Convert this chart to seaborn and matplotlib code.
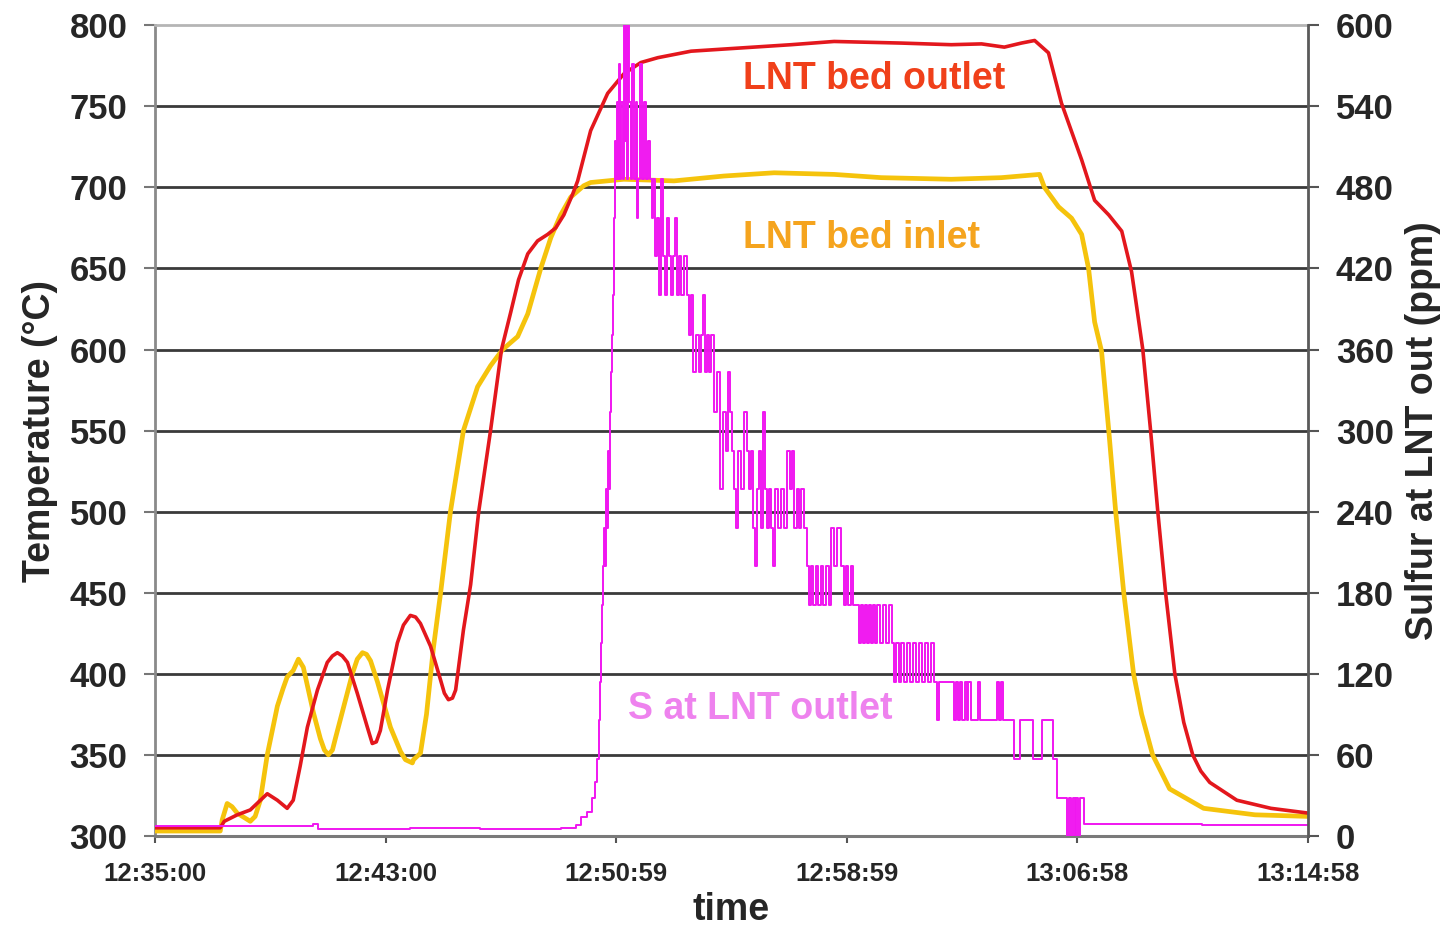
import matplotlib
matplotlib.use("Agg")
import matplotlib.pyplot as plt
import seaborn as sns

# Elapsed time is in minutes after 12:35:00.
outlet_t = [0.00, 2.26, 2.40, 2.85, 3.30, 3.89, 4.24, 4.58, 4.79, 5.03, 5.28, 5.63, 5.97,
            6.15, 6.32, 6.49, 6.67, 7.01, 7.36, 7.53, 7.67, 7.81, 8.06, 8.40, 8.61, 8.85,
            9.03, 9.20, 9.55, 9.90, 10.03, 10.17, 10.31, 10.42, 10.69, 10.94, 11.22, 11.63,
            12.01, 12.33, 12.60, 12.92, 13.26, 13.61, 13.89, 14.17, 14.48, 14.65, 15.10,
            15.69, 16.25, 16.84, 17.43, 18.58, 20.31, 22.05, 23.54, 25.87, 27.60, 28.65,
            29.44, 30.03, 30.49, 30.97, 31.42, 32.12, 32.57, 33.06, 33.51, 33.85, 33.99,
            34.24, 34.51, 34.76, 35.03, 35.35, 35.66, 35.97, 36.25, 36.56, 37.50, 38.68,
            40.00]
outlet_temp = [305, 305, 309, 313, 316, 326, 322, 317, 322, 343, 367, 390, 407,
               411, 413, 411, 407, 388, 367, 357, 358, 365, 390, 419, 430, 436,
               435, 431, 417, 396, 388, 384, 385, 390, 427, 455, 500, 550,
               600, 623, 643, 659, 667, 671, 675, 683, 696, 704, 735,
               758, 770, 777, 780, 784, 786, 788, 790, 789, 788, 788.5,
               786.5, 789, 790.6, 783, 752, 717, 692, 683, 673, 648, 631,
               600, 550, 500, 450, 400, 370, 350, 340, 333, 322, 317,
               314]

inlet_t = [0.00, 2.26, 2.33, 2.50, 2.67, 2.85, 3.30, 3.47, 3.65, 3.89, 4.24, 4.44, 4.58,
           4.79, 4.97, 5.14, 5.49, 5.73, 5.87, 6.01, 6.15, 6.25, 6.53, 6.84, 7.01, 7.19,
           7.33, 7.47, 7.71, 8.16, 8.51, 8.68, 8.92, 8.96, 9.20, 9.41, 9.65, 9.90, 10.24,
           10.69, 11.18, 11.63, 12.05, 12.57, 12.92, 13.37, 13.72, 14.06, 14.41, 14.86,
           15.10, 16.25, 17.99, 19.72, 21.46, 23.54, 25.17, 27.60, 29.34, 30.66, 30.83,
           31.32, 31.77, 32.12, 32.36, 32.57, 32.81, 33.06, 33.30, 33.58, 33.92, 34.20,
           34.58, 35.17, 36.35, 38.13, 40.00]
inlet_temp = [303, 303, 310, 320, 318, 314, 309, 312, 322, 350, 380, 391, 398,
              402, 409, 404, 376, 360, 353, 350, 353, 360, 379, 400, 409, 413,
              412, 408, 395, 367, 352, 347, 345, 347, 351, 375, 416, 450, 500,
              550, 577, 590, 600, 608, 622, 650, 669, 683, 694, 701,
              703, 705, 704, 707, 709, 708, 706, 705, 706, 708, 700,
              688, 681, 671, 650, 617, 599, 550, 500, 450, 400, 375,
              350, 329, 317, 313, 312]

sulfur_t = [0.00, 5.49, 5.66, 8.85, 11.28, 14.06, 14.58, 14.76, 14.97, 15.14, 15.24, 15.31,
            15.38, 15.42, 15.45, 15.49, 15.52, 15.56, 15.59, 15.63, 15.66, 15.69, 15.73,
            15.76, 15.80, 15.83, 15.87, 15.90, 15.94, 15.97, 16.01, 16.04, 16.08, 16.11,
            16.15, 16.22, 16.25, 16.28, 16.32, 16.35, 16.39, 16.42, 16.49, 16.53, 16.60,
            16.67, 16.70, 16.74, 16.81, 16.88, 16.94, 17.01, 17.08, 17.15, 17.22, 17.26,
            17.33, 17.40, 17.47, 17.53, 17.60, 17.67, 17.74, 17.81, 17.88, 17.95, 18.02,
            18.09, 18.16, 18.23, 18.33, 18.44, 18.51, 18.58, 18.65, 18.75, 18.85, 18.92,
            18.99, 19.06, 19.13, 19.20, 19.27, 19.38, 19.48, 19.58, 19.69, 19.79, 19.86,
            19.93, 20.00, 20.07, 20.14, 20.21, 20.31, 20.42, 20.52, 20.59, 20.66, 20.73,
            20.80, 20.87, 20.94, 21.01, 21.08, 21.15, 21.22, 21.28, 21.35, 21.42, 21.49,
            21.60, 21.70, 21.81, 21.91, 22.01, 22.08, 22.15, 22.26, 22.33, 22.40, 22.50,
            22.60, 22.67, 22.74, 22.81, 22.92, 22.99, 23.09, 23.16, 23.26, 23.37, 23.44,
            23.54, 23.65, 23.78, 23.89, 23.96, 24.03, 24.13, 24.20, 24.41, 24.48, 24.55,
            24.62, 24.69, 24.76, 24.83, 24.90, 24.97, 25.03, 25.14, 25.24, 25.35, 25.45,
            25.56, 25.63, 25.69, 25.80, 25.87, 25.97, 26.08, 26.18, 26.28, 26.39, 26.49,
            26.60, 26.70, 26.81, 26.91, 27.01, 27.12, 27.19, 27.71, 27.78, 27.85, 27.92,
            27.99, 28.06, 28.13, 28.19, 28.30, 28.51, 28.58, 29.20, 29.27, 29.34, 29.41,
            29.79, 29.97, 30.45, 30.73, 31.11, 31.25, 31.60, 31.67, 31.74, 31.81, 31.88,
            31.94, 32.01, 32.08, 32.19, 36.28, 40.00]
sulfur_ppm = [7, 9, 5, 6, 5, 6, 8, 14, 18, 28, 40, 57,
              86, 114, 143, 171, 200, 228, 200, 257, 228, 285, 257,
              314, 343, 371, 400, 457, 514, 486, 543, 486, 571, 486,
              543, 486, 600, 514, 600, 486, 600, 543, 486, 571, 486,
              543, 457, 486, 571, 486, 543, 486, 514, 486, 457, 486,
              429, 457, 400, 486, 429, 400, 457, 429, 400, 429, 457,
              400, 429, 400, 429, 400, 371, 400, 343, 371, 343, 371,
              400, 343, 371, 343, 371, 314, 343, 257, 314, 285, 343,
              314, 285, 257, 228, 285, 257, 314, 285, 257, 285, 228,
              200, 257, 285, 228, 314, 257, 228, 257, 228, 200, 257,
              228, 257, 228, 285, 257, 285, 228, 257, 228, 257, 228,
              200, 171, 200, 171, 200, 171, 200, 171, 200, 171, 228,
              200, 228, 200, 171, 200, 171, 200, 171, 143, 171, 143,
              171, 143, 171, 143, 171, 143, 171, 143, 171, 143, 171,
              143, 114, 143, 114, 143, 114, 143, 114, 143, 114, 143,
              114, 143, 114, 143, 114, 86, 114, 86, 114, 86, 114,
              86, 114, 86, 114, 86, 114, 86, 114, 86, 114, 86,
              57, 86, 57, 86, 57, 28, 0, 28, 0, 28, 0,
              28, 0, 28, 9, 8, 7]

time_ticks = [0.0, 8.0, 15.983, 23.983, 31.967, 39.967]
time_labels = ["12:35:00", "12:43:00", "12:50:59", "12:58:59", "13:06:58", "13:14:58"]
temp_ticks = list(range(300, 801, 50))
sulfur_ticks = list(range(0, 601, 60))

OUTLET = "#e3171d"
INLET = "#f5c30c"
SULFUR = "#f016f0"

sns.set_theme(style="white")
plt.rcParams["font.family"] = ["Liberation Sans", "DejaVu Sans"]
plt.rcParams["font.weight"] = "bold"
plt.rcParams["axes.labelweight"] = "bold"

fig, ax = plt.subplots(figsize=(14.49, 9.35), dpi=100)
fig.subplots_adjust(left=0.107, right=0.9027, bottom=0.106, top=0.973)

sns.lineplot(x=inlet_t, y=inlet_temp, ax=ax, color=INLET, lw=3.4,
             estimator=None, sort=False, zorder=3,
             solid_joinstyle="round", solid_capstyle="round")
sns.lineplot(x=outlet_t, y=outlet_temp, ax=ax, color=OUTLET, lw=2.6,
             estimator=None, sort=False, zorder=4,
             solid_joinstyle="round", solid_capstyle="round")

ax.set_xlim(0, 39.967)
ax.set_ylim(300, 800)
ax.set_yticks(temp_ticks)
ax.set_xticks(time_ticks)
ax.set_xticklabels(time_labels)
ax.yaxis.grid(True, color="#3a3a3a", lw=2.0)
ax.set_axisbelow(True)
grid = ax.yaxis.get_gridlines()
grid[0].set_visible(False)
grid[-1].set_visible(False)

ax.tick_params(axis="y", direction="out", length=8, width=1.5, color="#777777",
               pad=12, labelsize=25, left=True)
ax.tick_params(axis="x", direction="out", length=5, width=1.5, color="#555555",
               pad=14, labelsize=18.5, bottom=True)

ax.set_xlabel("time", fontsize=27, labelpad=4)
ax.set_ylabel("Temperature (\u00b0C)", fontsize=27, labelpad=8)

ax.text(20.38, 767, "LNT bed outlet", color="#f0401a", fontsize=27,
        fontweight="bold", ha="left", va="center", zorder=5)
ax.text(20.38, 669, "LNT bed inlet", color="#f5a41e", fontsize=27,
        fontweight="bold", ha="left", va="center", zorder=5)
ax.text(16.39, 378, "S at LNT outlet", color="#ee82ee", fontsize=27,
        fontweight="bold", ha="left", va="center", zorder=5)

ax2 = ax.twinx()
sns.lineplot(x=sulfur_t, y=sulfur_ppm, ax=ax2, color=SULFUR, lw=1.4,
             drawstyle="steps-post", estimator=None, sort=False)
ax2.set_ylim(0, 600)
ax2.set_yticks(sulfur_ticks)
ax2.set_xlim(0, 39.967)
ax2.tick_params(axis="y", direction="out", length=8, width=1.5, color="#555555",
                pad=12, labelsize=25, right=True)
ax2.set_ylabel("Sulfur at LNT out (ppm)", fontsize=27, labelpad=8)

for name in ("left", "top", "bottom"):
    ax2.spines[name].set_visible(False)
ax.spines["right"].set_visible(False)
ax.spines["left"].set_color("#8a8a8a")
ax.spines["left"].set_linewidth(2.0)
ax.spines["top"].set_color("#b5b5b5")
ax.spines["top"].set_linewidth(2.0)
ax.spines["bottom"].set_color("#7a7a7a")
ax.spines["bottom"].set_linewidth(2.2)
ax2.spines["right"].set_color("#5a5a5a")
ax2.spines["right"].set_linewidth(2.0)

fig.savefig("out.png", dpi=100)
